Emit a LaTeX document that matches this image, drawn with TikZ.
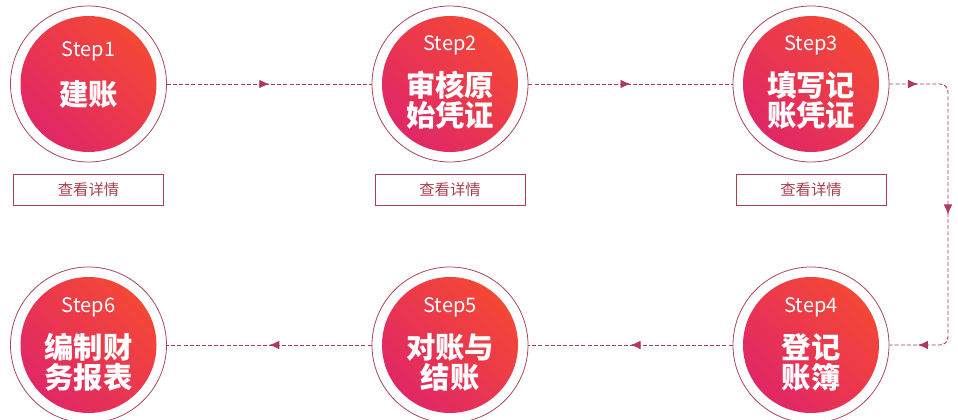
\documentclass[tikz,border=0pt]{standalone}
\usepackage{fontspec}
\setmainfont{Noto Sans CJK SC}
\usetikzlibrary{arrows.meta,decorations.markings}
\definecolor{redtop}{HTML}{F44836}
\definecolor{pinkbot}{HTML}{E02766}
\definecolor{ringc}{HTML}{A8475B}
\definecolor{linec}{HTML}{B0385E}
\definecolor{btnc}{HTML}{A8404F}
\begin{document}
\begin{tikzpicture}[x=0.75pt,y=-0.75pt,
  outerring/.style={circle, draw=ringc, line width=0.6pt, minimum size=117pt, inner sep=0pt},
  innerdisc/.style={circle, minimum size=102pt, inner sep=0pt, top color=redtop, bottom color=pinkbot, shading angle=-45},
  steptxt/.style={text=white, font=\fontsize{15pt}{17pt}\selectfont},
  cntxt/.style={text=white, font=\fontsize{22pt}{22.5pt}\selectfont\bfseries, align=center, inner sep=0pt},
  btn/.style={draw=btnc, line width=0.6pt, minimum width=112.5pt, minimum height=23.25pt, inner sep=0pt, text=btnc, font=\fontsize{11.5pt}{13pt}\selectfont},
  conn/.style={draw=linec, line width=0.7pt, dash pattern=on 3pt off 1.6pt},
  midarrow/.style={postaction={decorate}, decoration={markings, mark=at position #1 with {\arrow[linec]{Latex[length=7.5pt,width=6.5pt]}}}}
]
\fill[white] (0,0) rectangle (958,420);
\useasboundingbox (0,0) rectangle (958,420);

% circles
\foreach \n/\x in {1/88.5, 2/450, 3/811}{
  \node[outerring] (o\n) at (\x,84) {};
  \node[innerdisc] (i\n) at (\x,84) {};
}
\foreach \n/\x in {4/811, 5/450, 6/88.5}{
  \node[outerring] (o\n) at (\x,345) {};
  \node[innerdisc] (i\n) at (\x,345) {};
}

\node[steptxt] (st1) at (88.5,51) {Step1};
\node[cntxt] (t1) at (88.5,94) {建账};
\node[steptxt] (st2) at (450,45) {Step2};
\node[cntxt] (t2) at (450,100) {审核原\\始凭证};
\node[steptxt] (st3) at (811,45) {Step3};
\node[cntxt] (t3) at (811,100) {填写记\\账凭证};
\node[steptxt] (st4) at (811,307) {Step4};
\node[cntxt] (t4) at (811,362) {登记\\账簿};
\node[steptxt] (st5) at (450,307) {Step5};
\node[cntxt] (t5) at (450,362) {对账与\\结账};
\node[steptxt] (st6) at (88.5,307) {Step6};
\node[cntxt] (t6) at (88.5,362) {编制财\\务报表};

\node[btn] (b1) at (88.5,189.5) {查看详情};
\node[btn] (b2) at (450,189.5) {查看详情};
\node[btn] (b3) at (811,189.5) {查看详情};

% connectors
\draw[conn, midarrow=0.5] (o1.east) -- (o2.west);
\draw[conn, midarrow=0.5] (o2.east) -- (o3.west);
\coordinate (c1) at (948,84);
\coordinate (c2) at (948,345);
\draw[conn, rounded corners=6pt,
  postaction={decorate}, decoration={markings,
    mark=at position 0.077 with {\arrow[linec]{Latex[length=7.5pt,width=6.5pt]}},
    mark=at position 0.5 with {\arrow[linec]{Latex[length=7.5pt,width=6.5pt]}},
    mark=at position 0.923 with {\arrow[linec]{Latex[length=7.5pt,width=6.5pt]}}}]
  (o3.east) -- (c1) -- (c2) -- (o4.east);
\draw[conn, midarrow=0.5] (o4.west) -- (o5.east);
\draw[conn, midarrow=0.5] (o5.west) -- (o6.east);
\end{tikzpicture}
\end{document}
